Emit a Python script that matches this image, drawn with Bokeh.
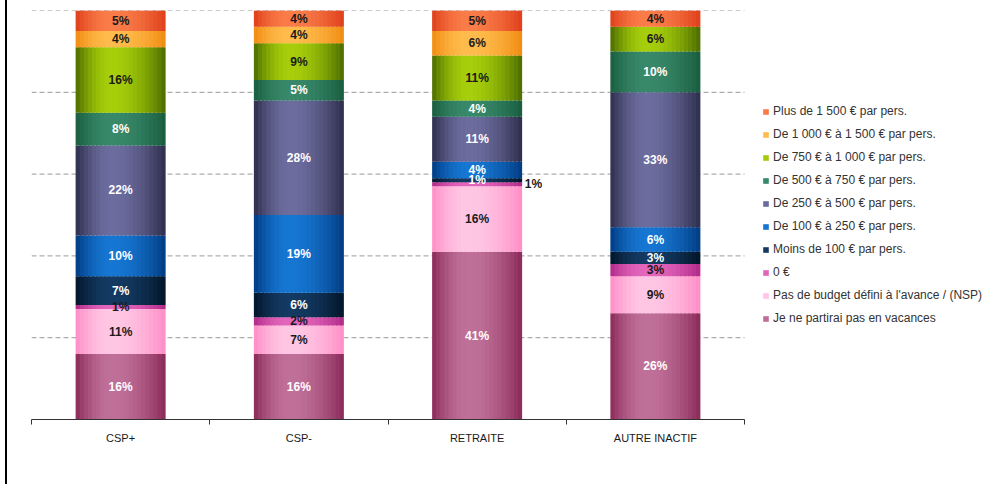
import math

from bokeh.core.properties import value
from bokeh.embed import file_html
from bokeh.models import (ColumnDataSource, FixedTicker, Legend, LegendItem,
                          LinearAxis, Range1d)
from bokeh.plotting import figure
from bokeh.resources import INLINE

# ---- data -------------------------------------------------------------
categories = ["CSP+", "CSP-", "RETRAITE", "AUTRE INACTIF"]

# stacked from the bottom of each bar to the top
series_names = [
    "Je ne partirai pas en vacances",
    "Pas de budget défini à l'avance / (NSP)",
    "0 €",
    "Moins de 100 € par pers.",
    "De 100 € à 250 € par pers.",
    "De 250 € à 500 € par pers.",
    "De 500 € à 750 € par pers.",
    "De 750 € à 1 000 € par pers.",
    "De 1 000 € à 1 500 € par pers.",
    "Plus de 1 500 € par pers.",
]

je_ne_partirai = [16, 16, 41, 26]
pas_de_budget = [11, 7, 16, 9]
zero_euro = [1, 2, 1, 3]
moins_100 = [7, 6, 1, 3]
de_100_a_250 = [10, 19, 4, 6]
de_250_a_500 = [22, 28, 11, 33]
de_500_a_750 = [8, 5, 4, 10]
de_750_a_1000 = [16, 9, 11, 6]
de_1000_a_1500 = [4, 4, 6, 0]
plus_1500 = [5, 4, 5, 4]

series_values = [je_ne_partirai, pas_de_budget, zero_euro, moins_100, de_100_a_250,
                 de_250_a_500, de_500_a_750, de_750_a_1000, de_1000_a_1500, plus_1500]

y_ticks = [20, 40, 60, 80, 100]

# labels that sit beside their bar rather than inside it
outside_labels = {("RETRAITE", "0 €")}

# ---- styling ----------------------------------------------------------
# (edge colour, highlight colour) for the cylinder-like shading of each series
shades = [
    ("#8a2858", "#bf7099"),
    ("#ff8cc6", "#ffc6e4"),
    ("#b02888", "#e466bc"),
    ("#021428", "#143a62"),
    ("#003a80", "#1676d2"),
    ("#2c2c4a", "#6c6c9e"),
    ("#185c3e", "#38886a"),
    ("#4a6a00", "#a6ce0a"),
    ("#f08a10", "#ffbc4c"),
    ("#de3e1a", "#fa7c48"),
]
label_colors = ["#ffffff", "#1a1a1a", "#1a1a1a", "#ffffff", "#ffffff",
                "#ffffff", "#ffffff", "#1a1a1a", "#1a1a1a", "#1a1a1a"]

FONT = "Liberation Sans"
BAR_WIDTH = 0.505
N_STRIPS = 22

# pixel layout: the category axis spans 713 px, the frame continues to hold the legend
FRAME_LEFT, AXIS_RIGHT, FRAME_RIGHT = 24, 737, 978
FRAME_TOP, FRAME_BOTTOM = 10, 419
n_cat = len(categories)
x_end = n_cat * (FRAME_RIGHT - FRAME_LEFT) / (AXIS_RIGHT - FRAME_LEFT)


def hex_to_rgb(h):
    h = h.lstrip("#")
    return tuple(int(h[i:i + 2], 16) for i in (0, 2, 4))


def mix(c1, c2, w):
    a, b = hex_to_rgb(c1), hex_to_rgb(c2)
    return "#%02x%02x%02x" % tuple(round(x + (y - x) * w) for x, y in zip(a, b))


def shade_weight(t, peak=0.4):
    d = (t - peak) / peak if t < peak else (t - peak) / (1 - peak)
    return math.cos(d * math.pi / 2) ** 0.9


# ---- figure -----------------------------------------------------------
p = figure(width=985, height=484, x_range=Range1d(0, x_end), y_range=Range1d(0, 100),
           output_backend="svg", toolbar_location=None,
           x_axis_location=None, y_axis_location=None,
           min_border_left=FRAME_LEFT, min_border_right=985 - FRAME_RIGHT,
           min_border_top=FRAME_TOP, min_border_bottom=484 - FRAME_BOTTOM)
p.center = []  # drop the default solid grids
p.outline_line_color = None
p.background_fill_color = "white"
p.border_fill_color = "white"
p.styles = {"margin-left": "5px", "border-left": "2px solid #000000"}

# dashed horizontal guides across the category area only
guides = ColumnDataSource(dict(y=y_ticks, x0=[0] * len(y_ticks), x1=[n_cat] * len(y_ticks)))
p.segment(x0="x0", x1="x1", y0="y", y1="y", source=guides, line_color="#9a9a9a",
          line_dash="5 3", line_width=1, level="underlay")

centers = [i + 0.5 for i in range(n_cat)]
keys = [f"s{i}" for i in range(len(series_values))]
data = {"cat": categories}
for k, vals in zip(keys, series_values):
    data[k] = vals

strip_w = BAR_WIDTH / N_STRIPS
overlap = strip_w * 0.5
strip_specs = []
for j in range(N_STRIPS):
    t = (j + 0.5) / N_STRIPS
    w = strip_w + (overlap if j < N_STRIPS - 1 else 0)
    xcol = f"x{j}"
    data[xcol] = [c - BAR_WIDTH / 2 + j * strip_w + w / 2 for c in centers]
    strip_specs.append((t, xcol, w))

source = ColumnDataSource(data)

renderers_by_strip = []
for t, xcol, w in strip_specs:
    wt = shade_weight(t)
    colors = [mix(e, h, wt) for e, h in shades]
    rs = p.vbar_stack(keys, x=xcol, width=w, color=colors, line_color=None, source=source)
    renderers_by_strip.append(rs)

# ---- value labels ----------------------------------------------------
lx, ly, lt, lc, la = [], [], [], [], []
for ci, cat in enumerate(categories):
    bottom = 0
    for si, vals in enumerate(series_values):
        v = vals[ci]
        if v > 0:
            if (cat, series_names[si]) in outside_labels:
                lx.append(centers[ci] + BAR_WIDTH / 2 + 0.015)
                la.append("left")
                lc.append("#1a1a1a")
            else:
                lx.append(centers[ci])
                la.append("center")
                lc.append(label_colors[si])
            ly.append(bottom + v / 2)
            lt.append(f"{v}%")
        bottom += v

labels = ColumnDataSource(dict(x=lx, y=ly, text=lt, color=lc, align=la))
p.text(x="x", y="y", text="text", source=labels, text_color="color", text_align="align",
       text_baseline="middle", text_font=value(FONT), text_font_size="12px",
       text_font_style="bold")

# ---- category axis ---------------------------------------------------
xaxis = LinearAxis(ticker=FixedTicker(ticks=centers, minor_ticks=list(range(n_cat + 1))),
                   major_label_overrides={c: cat for c, cat in zip(centers, categories)},
                   bounds=(0, n_cat))
xaxis.axis_line_color = "#333333"
xaxis.axis_line_width = 1
xaxis.major_tick_out = 0
xaxis.major_tick_in = 0
xaxis.minor_tick_out = 5
xaxis.minor_tick_in = 0
xaxis.minor_tick_line_color = "#333333"
xaxis.major_label_standoff = 7
xaxis.major_label_text_font = FONT
xaxis.major_label_text_font_size = "11px"
xaxis.major_label_text_color = "#1a1a1a"
p.add_layout(xaxis, "below")

# ---- legend ----------------------------------------------------------
legend_strip = renderers_by_strip[N_STRIPS // 3]
items = [LegendItem(label=series_names[i], renderers=[legend_strip[i]])
         for i in reversed(range(len(series_names)))]
legend = Legend(items=items, location=(755 - FRAME_LEFT, 94), border_line_color=None,
                background_fill_alpha=0, label_text_font=FONT,
                label_text_font_size="12px", label_text_color="#333333",
                glyph_width=7, glyph_height=7, label_standoff=4,
                label_height=14, spacing=9, padding=0, margin=0)
p.add_layout(legend)

open("out.html", "w").write(file_html(p, INLINE))
